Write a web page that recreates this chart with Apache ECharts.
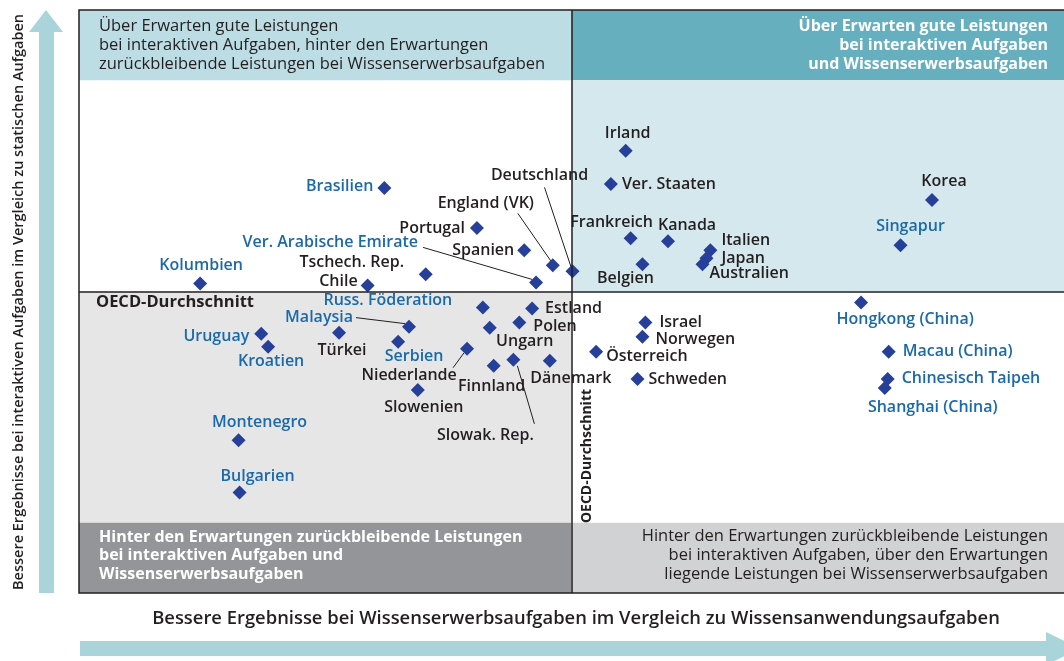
<!DOCTYPE html>
<html>
<head>
<meta charset="utf-8">
<script src="https://cdn.jsdelivr.net/npm/echarts@6/dist/echarts.min.js"></script>
<style>
  html, body { margin: 0; padding: 0; background: #fff; }
  #chart { width: 1064px; height: 661px; }
</style>
</head>
<body>
<div id="chart"></div>
<script>
// OECD-Länder (dunkle Beschriftung)
var oecdNames = ['Irland', 'Ver. Staaten', 'Frankreich', 'Kanada', 'Italien', 'Japan', 'Australien',
  'Belgien', 'Deutschland', 'Korea', 'Israel', 'Norwegen', 'Österreich', 'Schweden', 'Portugal',
  'Spanien', 'England (VK)', 'Tschech. Rep.', 'Chile', 'Estland', 'Polen', 'Ungarn', 'Türkei',
  'Niederlande', 'Slowak. Rep.', 'Finnland', 'Dänemark', 'Slowenien'];
var oecdX = [5.5, 4.0, 6.0, 9.8, 14.1, 13.7, 13.3, 7.2, 0.1, 36.6, 7.5, 7.2, 2.5, 6.7, -9.6,
  -4.8, -1.9, -14.8, -20.7, -4.0, -5.3, -8.3, -23.6, -10.6, -5.9, -7.9, -2.2, -15.6];
var oecdY = [14.0, 10.7, 5.3, 5.0, 4.1, 3.3, 2.7, 2.7, 2.0, 9.1, -3.1, -4.5, -6.0, -8.7, 6.3,
  4.1, 2.6, 1.7, 0.6, -1.7, -3.1, -3.6, -4.1, -5.7, -6.8, -7.4, -6.9, -9.8];

// Partnerländer (blaue Beschriftung)
var partnerNames = ['Singapur', 'Hongkong (China)', 'Macau (China)', 'Chinesisch Taipeh',
  'Shanghai (China)', 'Brasilien', 'Ver. Arabische Emirate', 'Kolumbien', 'Russ. Föderation',
  'Malaysia', 'Uruguay', 'Kroatien', 'Serbien', 'Montenegro', 'Bulgarien'];
var partnerX = [33.4, 29.4, 32.2, 32.1, 31.8, -19.0, -3.6, -37.7, -9.0, -16.5, -31.5, -30.8, -17.6, -33.8, -33.7];
var partnerY = [4.6, -1.1, -6.0, -8.7, -9.6, 10.3, 0.9, 0.8, -1.6, -3.5, -4.2, -5.5, -5.0, -14.8, -20.0];

// Achsenbereich (ohne Skala) und Bänder
var xMin = -50, xMax = 50, yMin = -30, yMax = 28;
var bandTop = 21, bandBottom = -23;

// Beschriftungsposition: [Ausrichtung, dx, dy] relativ zur Raute (px)
var labelPlacement = {
  'Irland': ['center', 2, -17], 'Ver. Staaten': ['left', 11, 1], 'Frankreich': ['center', -19, -16],
  'Kanada': ['center', 19, -16], 'Italien': ['left', 11, -10], 'Japan': ['left', 15, 0],
  'Australien': ['left', 7, 9], 'Belgien': ['center', -17, 14], 'Deutschland': ['center', -33, -96],
  'England (VK)': ['center', -67, -62], 'Portugal': ['right', -12, 0], 'Spanien': ['right', -10, 0],
  'Ver. Arabische Emirate': ['right', -118, -40], 'Tschech. Rep.': ['center', -74, -12],
  'Chile': ['right', -10, -4], 'Kolumbien': ['center', 1, -18], 'Brasilien': ['right', -11, -1],
  'Korea': ['center', 12, -19], 'Singapur': ['center', 10, -19], 'Hongkong (China)': ['center', 44, 17],
  'Macau (China)': ['left', 14, 0], 'Chinesisch Taipeh': ['left', 14, 0],
  'Shanghai (China)': ['center', 48, 19], 'Israel': ['left', 14, 0], 'Norwegen': ['left', 13, 3],
  'Österreich': ['left', 10, 5], 'Schweden': ['left', 11, 1], 'Estland': ['left', 13, 0],
  'Polen': ['left', 14, 4], 'Ungarn': ['center', 35, 14], 'Dänemark': ['center', 21, 18],
  'Finnland': ['center', -2, 21], 'Slowak. Rep.': ['center', -28, 76], 'Slowenien': ['center', 6, 17],
  'Niederlande': ['center', -58, 27], 'Serbien': ['center', 16, 15], 'Türkei': ['center', 3, 18],
  'Malaysia': ['right', -56, -9], 'Russ. Föderation': ['center', -95, -7],
  'Uruguay': ['right', -12, 3], 'Kroatien': ['center', 3, 15], 'Montenegro': ['center', 21, -18],
  'Bulgarien': ['center', 18, -16]
};

// Hinweislinien: [Land, x1, y1, x2, y2] relativ zur Raute (px)
var leaders = [
  ['Deutschland', -28, -84, -1, -3],
  ['England (VK)', -35, -52, -1, -3],
  ['Ver. Arabische Emirate', -113, -35, -4, -3],
  ['Niederlande', -14, 19, -3, 4],
  ['Slowak. Rep.', 4, 6, 21, 64],
  ['Malaysia', -53, -9, -4, -3]
];

var FONT = '"Open Sans", sans-serif';
var DARK = '#231f20';
var BLUE = '#1a69a8';

function makeItems(names, xs, ys) {
  return names.map(function (n, i) {
    var p = labelPlacement[n] || ['left', 12, 0];
    return {
      name: n,
      value: [xs[i], ys[i]],
      label: { align: p[0], offset: [p[1], p[2]] }
    };
  });
}

function valueOf(name) {
  var i = oecdNames.indexOf(name);
  if (i >= 0) return [oecdX[i], oecdY[i]];
  i = partnerNames.indexOf(name);
  return [partnerX[i], partnerY[i]];
}

function pointLabel(color) {
  return {
    show: true,
    formatter: '{b}',
    position: ['50%', '50%'],
    verticalAlign: 'middle',
    color: color,
    fontFamily: FONT,
    fontWeight: 600,
    fontSize: 16
  };
}

function area(x1, y1, x2, y2, color) {
  return [{ coord: [x1, y1], itemStyle: { color: color } }, { coord: [x2, y2] }];
}

var chart = echarts.init(document.getElementById('chart'));

chart.setOption({
  animation: false,
  grid: { left: 79, top: 10, width: 985, height: 583 },
  xAxis: { type: 'value', min: xMin, max: xMax, show: false },
  yAxis: { type: 'value', min: yMin, max: yMax, show: false },
  series: [
    {
      name: 'Hintergrund',
      type: 'scatter',
      data: [],
      z: 1,
      silent: true,
      markArea: {
        silent: true,
        itemStyle: { opacity: 1 },
        data: [
          area(xMin, bandTop, 0, yMax, '#bddde4'),
          area(0, bandTop, xMax, yMax, '#65afbf'),
          area(0, 0, xMax, bandTop, '#d4e8ed'),
          area(xMin, bandBottom, 0, 0, '#e6e6e7'),
          area(xMin, yMin, 0, bandBottom, '#939598'),
          area(0, yMin, xMax, bandBottom, '#d1d2d4')
        ]
      },
      markLine: {
        silent: true,
        symbol: 'none',
        label: { show: false },
        lineStyle: { color: DARK, width: 1.5, type: 'solid', opacity: 1 },
        data: [{ xAxis: 0 }, { yAxis: 0 }]
      }
    },
    {
      name: 'Hinweislinien',
      type: 'custom',
      z: 2,
      silent: true,
      data: leaders.map(function (l) { return valueOf(l[0]); }),
      renderItem: function (params, api) {
        var p = api.coord([api.value(0), api.value(1)]);
        var o = leaders[params.dataIndex];
        return {
          type: 'line',
          shape: { x1: p[0] + o[1], y1: p[1] + o[2], x2: p[0] + o[3], y2: p[1] + o[4] },
          style: { stroke: DARK, lineWidth: 1 }
        };
      }
    },
    {
      name: 'OECD-Länder',
      type: 'scatter',
      z: 3,
      symbol: 'diamond',
      symbolSize: 14,
      itemStyle: { color: '#263f98', opacity: 1 },
      label: pointLabel(DARK),
      emphasis: { disabled: true },
      data: makeItems(oecdNames, oecdX, oecdY)
    },
    {
      name: 'Partnerländer',
      type: 'scatter',
      z: 3,
      symbol: 'diamond',
      symbolSize: 14,
      itemStyle: { color: '#263f98', opacity: 1 },
      label: pointLabel(BLUE),
      emphasis: { disabled: true },
      data: makeItems(partnerNames, partnerX, partnerY)
    }
  ],
  graphic: [
    // Rahmen
    { type: 'rect', z: 50, shape: { x: 79, y: 10, width: 986, height: 583 },
      style: { fill: 'none', stroke: DARK, lineWidth: 1.5 } },
    // Pfeile
    { type: 'polygon', z: 5, shape: { points: [[39, 593], [39, 32], [29, 32], [46, 10], [63, 32], [54, 32], [54, 593]] },
      style: { fill: '#a9d4da' } },
    { type: 'polygon', z: 5, shape: { points: [[80, 641], [1046, 641], [1046, 632], [1080, 648.5], [1046, 665], [1046, 656], [80, 656]] },
      style: { fill: '#a9d4da' } },
    // Achsentitel
    { type: 'text', z: 60, x: 19, y: 302, rotation: Math.PI / 2,
      style: { text: 'Bessere Ergebnisse bei interaktiven Aufgaben im Vergleich zu statischen Aufgaben',
        font: '600 14.5px ' + FONT, fill: DARK, align: 'center', verticalAlign: 'middle' } },
    { type: 'text', z: 60, x: 576, y: 619,
      style: { text: 'Bessere Ergebnisse bei Wissenserwerbsaufgaben im Vergleich zu Wissensanwendungsaufgaben',
        font: '600 18.4px ' + FONT, fill: DARK, align: 'center', verticalAlign: 'middle' } },
    // Quadrantentexte
    { type: 'text', z: 60, x: 99, y: 16.5,
      style: { text: 'Über Erwarten gute Leistungen\nbei interaktiven Aufgaben, hinter den Erwartungen\nzurückbleibende Leistungen bei Wissenserwerbsaufgaben',
        font: '16.5px ' + FONT, lineHeight: 19, fill: DARK, align: 'left', verticalAlign: 'top' } },
    { type: 'text', z: 60, x: 1048, y: 16.5,
      style: { text: 'Über Erwarten gute Leistungen\nbei interaktiven Aufgaben\nund Wissenserwerbsaufgaben',
        font: 'bold 16px ' + FONT, lineHeight: 19, fill: '#fff', align: 'right', verticalAlign: 'top' } },
    { type: 'text', z: 60, x: 99, y: 528,
      style: { text: 'Hinter den Erwartungen zurückbleibende Leistungen\nbei interaktiven Aufgaben und\nWissenserwerbsaufgaben',
        font: 'bold 16px ' + FONT, lineHeight: 18.5, fill: '#fff', align: 'left', verticalAlign: 'top' } },
    { type: 'text', z: 60, x: 1048, y: 527,
      style: { text: 'Hinter den Erwartungen zurückbleibende Leistungen\nbei interaktiven Aufgaben, über den Erwartungen\nliegende Leistungen bei Wissenserwerbsaufgaben',
        font: '16.5px ' + FONT, lineHeight: 19, fill: DARK, align: 'right', verticalAlign: 'top' } },
    // OECD-Durchschnitt
    { type: 'text', z: 60, x: 96, y: 302,
      style: { text: 'OECD-Durchschnitt', font: 'bold 16.5px ' + FONT, fill: DARK, align: 'left', verticalAlign: 'middle' } },
    { type: 'text', z: 60, x: 587, y: 456, rotation: Math.PI / 2,
      style: { text: 'OECD-Durchschnitt', font: 'bold 14px ' + FONT, fill: DARK, align: 'center', verticalAlign: 'middle' } }
  ]
});
</script>
</body>
</html>
